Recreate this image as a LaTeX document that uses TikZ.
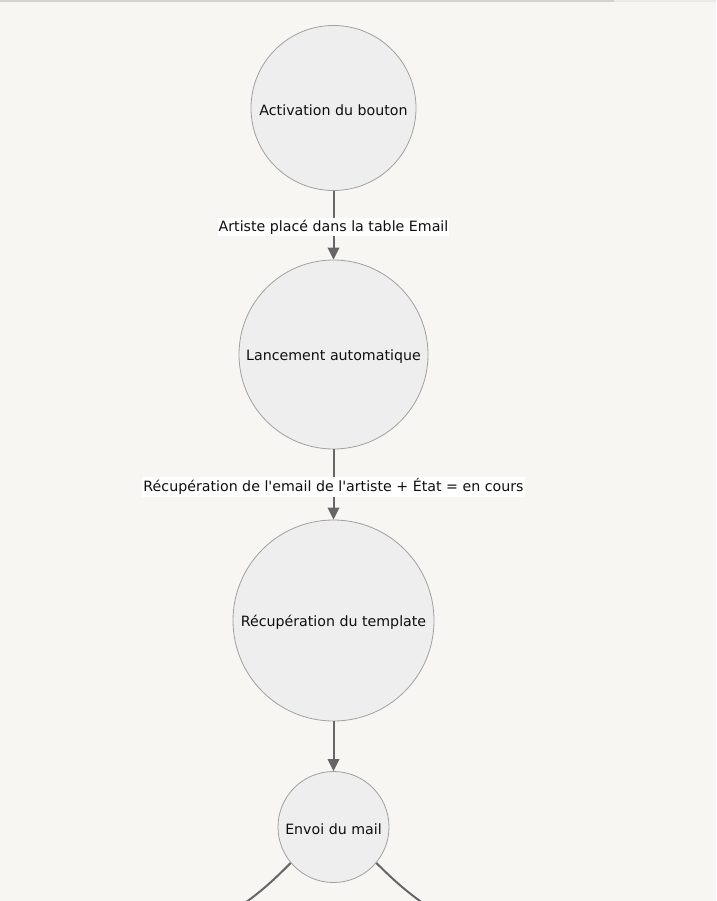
\documentclass[tikz,border=0pt]{standalone}
\usepackage{fontspec}
\setmainfont{DejaVu Sans}[Ligatures=TeXOff]
\usetikzlibrary{arrows.meta}
\definecolor{bgc}{RGB}{247,246,243}
\definecolor{nodefill}{RGB}{238,238,238}
\definecolor{nodeline}{RGB}{160,160,160}
\definecolor{edgec}{RGB}{102,102,102}
\definecolor{txtc}{RGB}{15,15,15}
\definecolor{barc}{RGB}{211,210,206}
\definecolor{barlight}{RGB}{235,234,230}
\newcommand{\lowtext}[1]{\raisebox{-2pt}[\height][\depth]{#1}}
\tikzset{
  stepnode/.style={circle,draw=nodeline,fill=nodefill,line width=0.8pt,inner sep=0pt,
    text=txtc,font=\fontsize{14.2}{17}\selectfont},
  flowedge/.style={draw=edgec,line width=2pt,-{Triangle[length=12pt,width=11.5pt]}},
  openedge/.style={draw=edgec,line width=2pt},
  edgelabel/.style={fill=white,text=txtc,inner xsep=1pt,inner ysep=2pt,
    font=\fontsize{14.2}{17}\selectfont}
}
\begin{document}
\begin{tikzpicture}[x=1pt,y=-1pt]
\useasboundingbox (0,0) rectangle (716,901);
\fill[bgc] (0,0) rectangle (716,901);
\fill[barc] (0,0) rectangle (614,2.5);
\fill[barlight] (614,0) rectangle (716,2.5);
\clip (0,0) rectangle (716,901);
\node[stepnode,minimum size=165pt] (n1) at (333.5,108) {\lowtext{Activation du bouton}};
\node[stepnode,minimum size=189pt] (n2) at (333.5,354.5) {\lowtext{Lancement automatique}};
\node[stepnode,minimum size=201pt] (n3) at (333.5,620.5) {\lowtext{Récupération du template}};
\node[stepnode,minimum size=111pt] (n4) at (333.5,827) {\lowtext{Envoi du mail}};
\coordinate (lend) at (226,916);
\coordinate (rend) at (442,916);
\draw[flowedge] (n1) -- node[edgelabel,pos=0.53] (l1) {Artiste placé dans la table Email} (n2);
\draw[flowedge] (n2) -- node[edgelabel,pos=0.53] (l2) {Récupération de l'email de l'artiste + État = en cours} (n3);
\draw[flowedge] (n3) -- (n4);
\draw[openedge] (n4.220) to[bend left=6] (lend);
\draw[openedge] (n4.320) to[bend right=6] (rend);
\end{tikzpicture}
\end{document}
